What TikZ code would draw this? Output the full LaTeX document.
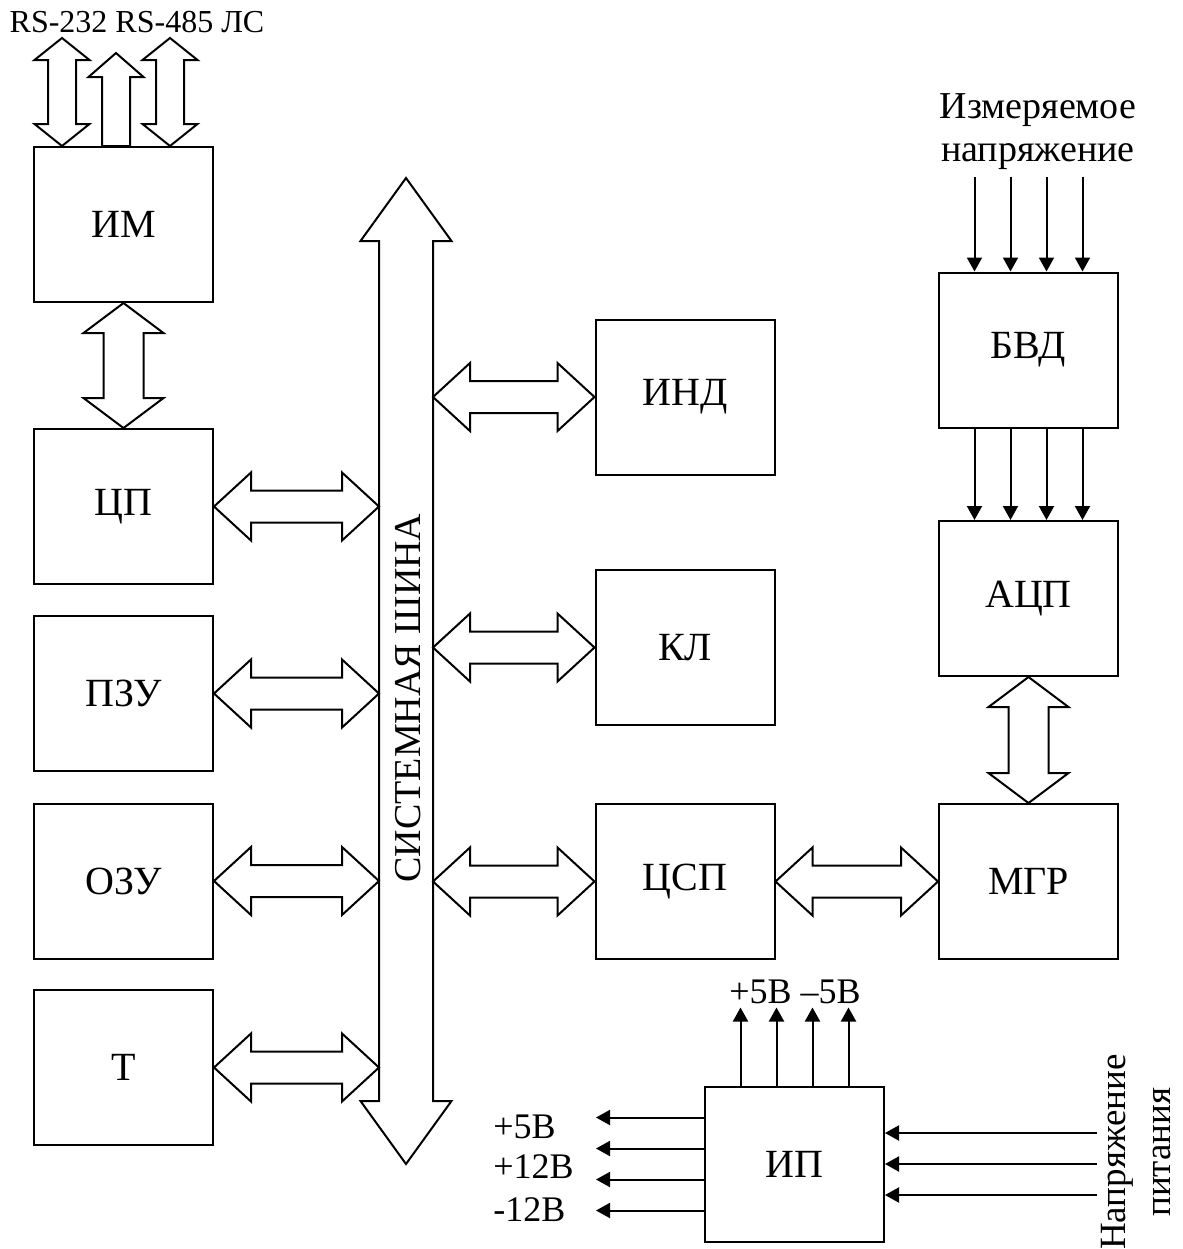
\documentclass[tikz,border=0pt]{standalone}
\usepackage{fontspec}
\setmainfont{Liberation Serif}
\usetikzlibrary{
  arrows.meta,  % Triangle tips
  calc          % anchor offsets and arrow outlines
}

\tikzset{
  blk/.style={draw, line width=1pt, minimum width=89.5pt, minimum height=77.5pt,
    inner sep=0pt, font=\fontsize{20}{24}\selectfont},
  fat/.style={draw, line width=1pt, fill=white, line join=miter},
  sig/.style={line width=1pt, -{Triangle[length=7pt,width=7.5pt]}},
  txt/.style={inner sep=0pt, font=\fontsize{18}{21}\selectfont},
}

% wide two-headed arrow: #1 -> #2, shaft half, head half, head length
\newcommand{\dblfat}[5]{%
  \coordinate (fa1) at ($#1!#5!#2$);
  \coordinate (fa2) at ($#2!#5!#1$);
  \draw[fat] #1 -- ($(fa1)!#4!90:#2$) -- ($(fa1)!#3!90:#2$)
    -- ($(fa2)!#3!-90:#1$) -- ($(fa2)!#4!-90:#1$) -- #2
    -- ($(fa2)!#4!90:#1$) -- ($(fa2)!#3!90:#1$)
    -- ($(fa1)!#3!-90:#2$) -- ($(fa1)!#4!-90:#2$) -- cycle;
}
% wide one-headed arrow
\newcommand{\onefat}[5]{%
  \coordinate (fb) at ($#2!#5!#1$);
  \draw[fat] ($#1!#3!90:#2$) -- ($(fb)!#3!-90:#1$) -- ($(fb)!#4!-90:#1$) -- #2
    -- ($(fb)!#4!90:#1$) -- ($(fb)!#3!90:#1$) -- ($#1!#3!-90:#2$) -- cycle;
}

\begin{document}
\begin{tikzpicture}[x=0.5pt, y=-0.5pt]
  \useasboundingbox (0,0) rectangle (1183,1249);

  % =========== левый столбец ===========
  \node[blk] (im)  at (123.5,224.5) {ИМ};
  \node[blk] (cp)  at (123.5,506.5) {ЦП};
  \node[blk] (pzu) at (123.5,693.5) {ПЗУ};
  \node[blk] (ozu) at (123.5,881)   {ОЗУ};
  \node[blk] (tm)  at (123.5,1067.5) {Т};

  % =========== средний и правый столбцы ===========
  \node[blk] (ind) at (685,397)    {ИНД};
  \node[blk] (kl)  at (685,647.5)  {КЛ};
  \node[blk] (csp) at (685,881.5)  {ЦСП};
  \node[blk] (bvd) at (1028.5,350)   {БВД};
  \node[blk] (adc) at (1028.5,598.5) {АЦП};
  \node[blk] (mgr) at (1028.5,881.5) {МГР};
  \node[blk] (ip)  at (794.5,1164)   {ИП};

  % =========== системная шина ===========
  \coordinate (bustop) at (406,178);
  \coordinate (busbot) at (406,1164);
  \coordinate (busL) at (379,0);
  \coordinate (busR) at (433,0);
  \dblfat{(bustop)}{(busbot)}{13.5pt}{22.75pt}{31.5pt}
  \node[txt, rotate=90, font=\fontsize{19}{22}\selectfont] (bus) at (408,698) {СИСТЕМНАЯ ШИНА};

  % интерфейсы ИМ
  \coordinate (rsA) at (62,38);
  \coordinate (rsB) at (116,53);
  \coordinate (rsC) at (170,38);
  \dblfat{(im.north -| rsA)}{(rsA)}{7pt}{13.75pt}{11pt}
  \onefat{(im.north -| rsB)}{(rsB)}{7pt}{13.75pt}{12pt}
  \dblfat{(im.north -| rsC)}{(rsC)}{7pt}{13.75pt}{11pt}
  \node[txt, font=\fontsize{16}{19}\selectfont] (rs) at (137,22) {RS-232 RS-485 ЛС};

  % обмен с шиной
  \dblfat{(im.south)}{(cp.north)}{10pt}{20pt}{15pt}
  \foreach \b in {cp,pzu,ozu,tm} {
    \dblfat{(\b.east)}{(\b.east -| busL)}{8pt}{17pt}{18.5pt}
  }
  \foreach \b in {ind,kl,csp} {
    \dblfat{(\b.west -| busR)}{(\b.west)}{8pt}{17pt}{18.5pt}
  }
  \dblfat{(csp.east)}{(mgr.west)}{8pt}{17pt}{18.5pt}
  \dblfat{(adc.south)}{(mgr.north)}{10pt}{20pt}{15pt}

  % измерительный тракт
  \node[txt, align=center, font=\fontsize{19}{21.5}\selectfont] (umeas) at (1038,132)
    {Измеряемое\\напряжение};
  \foreach \dx in {-54,-18,18,54} {
    \draw[sig] ($(bvd.north)+(\dx,-95)$) -- ($(bvd.north)+(\dx,0)$);
    \draw[sig] ($(bvd.south)+(\dx,0)$) -- ($(adc.north)+(\dx,0)$);
  }

  % источник питания
  \foreach \dx in {-54,-18,18,54}
    \draw[sig] ($(ip.north)+(\dx,0)$) -- ($(ip.north)+(\dx,-78)$);
  \foreach \dy in {-46.5,-15.5,15.5,46.5}
    \draw[sig] ($(ip.west)+(0,\dy)$) -- ($(ip.west)+(-108,\dy)$);
  \foreach \dy in {-31,0,31}
    \draw[sig] ($(ip.east)+(212,\dy)$) -- ($(ip.east)+(0,\dy)$);
  \node[txt] (vout) at (795,992) {+5В –5В};
  \node[txt, anchor=west] (v5)   at (493,1127) {+5В};
  \node[txt, anchor=west] (v12)  at (493,1167) {+12В};
  \node[txt, anchor=west] (vm12) at (493,1210) {-12В};
  \node[txt, align=center, rotate=90, font=\fontsize{18.5}{22.5}\selectfont] (upow)
    at (1136,1152) {Напряжение\\питания};
\end{tikzpicture}
\end{document}
